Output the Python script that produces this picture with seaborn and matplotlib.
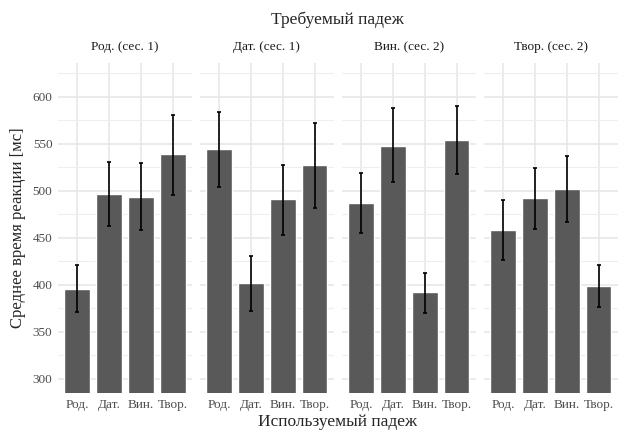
import numpy as np
import pandas as pd
import matplotlib.pyplot as plt
import seaborn as sns

# categories
used_case = ['Род.', 'Дат.', 'Вин.', 'Твор.']
panels = ['Род. (сес. 1)', 'Дат. (сес. 1)', 'Вин. (сес. 2)', 'Твор. (сес. 2)']

# mean reaction time per panel (required case) and used case
mean_rod = [396, 497, 494, 539]
mean_dat = [544, 402, 491, 527]
mean_vin = [487, 548, 392, 554]
mean_tvor = [458, 492, 502, 399]

# error bar limits
low_rod = [371, 463, 458, 496]
high_rod = [421, 531, 530, 581]
low_dat = [504, 372, 453, 482]
high_dat = [584, 431, 528, 572]
low_vin = [455, 509, 370, 518]
high_vin = [519, 588, 413, 590]
low_tvor = [427, 459, 467, 377]
high_tvor = [490, 524, 537, 421]

means = [mean_rod, mean_dat, mean_vin, mean_tvor]
lows = [low_rod, low_dat, low_vin, low_tvor]
highs = [high_rod, high_dat, high_vin, high_tvor]

rows = []
for p, m, lo, hi in zip(panels, means, lows, highs):
    for c, v, l, h in zip(used_case, m, lo, hi):
        rows.append({'panel': p, 'case': c, 'rt': v, 'lo': l, 'hi': h})
df = pd.DataFrame(rows)

sns.set_theme(style='white')
plt.rcParams['font.family'] = ['Liberation Serif', 'DejaVu Serif']

fig, axes = plt.subplots(1, 4, figsize=(6.19, 4.30), dpi=100, sharey=True)
fig.subplots_adjust(left=0.0937, right=0.998, top=0.8535, bottom=0.086, wspace=0.06)

for ax, p in zip(axes, panels):
    d = df[df['panel'] == p]
    sns.barplot(data=d, x='case', y='rt', order=used_case, color='#595959',
                saturation=1, width=0.8, errorbar=None, ax=ax, zorder=2)
    x = np.arange(len(used_case))
    ax.errorbar(x, d['rt'], yerr=[d['rt'] - d['lo'], d['hi'] - d['rt']],
                fmt='none', ecolor='black', elinewidth=1.2, capsize=1.5,
                capthick=1.2, zorder=3)
    ax.set_xlim(-0.6, 3.6)
    ax.set_ylim(285, 636)
    ax.set_yticks([300, 350, 400, 450, 500, 550, 600])
    ax.set_yticks([325, 375, 425, 475, 525, 575, 625], minor=True)
    ax.grid(True, which='major', color='#E6E6E6', linewidth=1.1, zorder=0)
    ax.grid(True, which='minor', axis='y', color='#EEEEEE', linewidth=0.8, zorder=0)
    ax.set_axisbelow(True)
    for s in ax.spines.values():
        s.set_visible(False)
    ax.tick_params(axis='both', which='both', length=0, labelsize=9.5,
                   labelcolor='#4D4D4D', pad=4)
    ax.set_xlabel('')
    ax.set_ylabel('')
    ax.set_title(p, fontsize=9.5, color='#1A1A1A', pad=9)

axes[0].set_ylabel('Среднее время реакции [мс]', fontsize=12, labelpad=5)
fig.text(0.545, 0.953, 'Требуемый падеж', ha='center', va='center', fontsize=12.5)
fig.text(0.545, 0.018, 'Используемый падеж', ha='center', va='center', fontsize=12.5)

fig.savefig('out.png', dpi=100, facecolor='white')
